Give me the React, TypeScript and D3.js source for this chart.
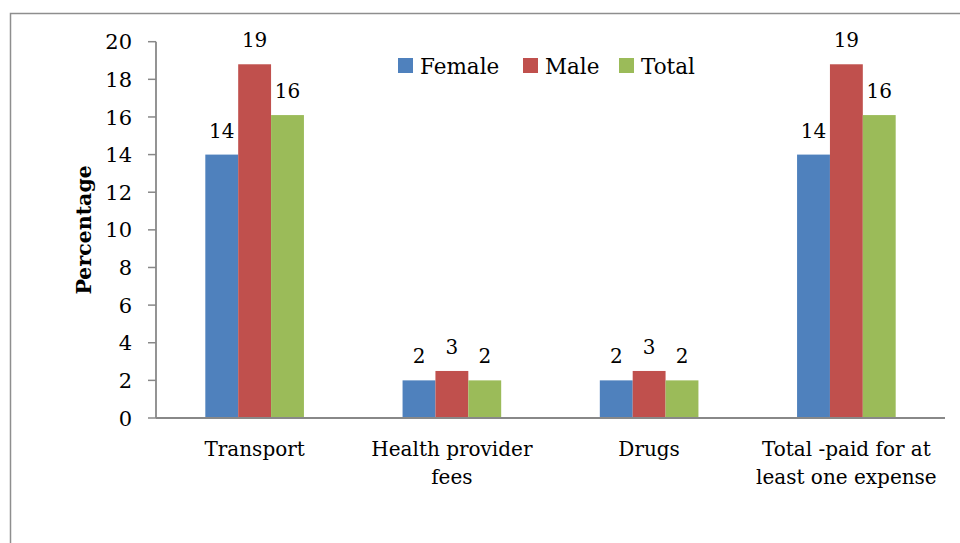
import React from "react";
import * as d3 from "d3";

const categories = ["Transport", "Health provider fees", "Drugs", "Total -paid for at least one expense"];
const categoryLines = [["Transport"], ["Health provider", "fees"], ["Drugs"], ["Total -paid for at", "least one expense"]];
const seriesNames = ["Female", "Male", "Total"];
const femaleValues = [14, 2, 2, 14];
const maleValues = [18.8, 2.5, 2.5, 18.8];
const totalValues = [16.1, 2, 2, 16.1];
const yTicks = [0, 2, 4, 6, 8, 10, 12, 14, 16, 18, 20];
const colors = ["#4F81BD", "#C0504D", "#9BBB59"];

const W = 960;
const H = 543;
const FONT = "'DejaVu Serif', serif";

export default function App() {
  const series = [femaleValues, maleValues, totalValues];
  const y = d3.scaleLinear().domain([0, 20]).range([418, 41.7]);
  const x = d3.scaleBand<string>().domain(categories).range([156, 945]).paddingInner(0.5).paddingOuter(0.25);
  const xs = d3.scaleBand<string>().domain(seriesNames).range([0, x.bandwidth()]);
  const legendX = [398, 523, 619];

  return (
    <svg width={W} height={H} style={{ position: "absolute", left: 0, top: 0, display: "block" }} fontFamily={FONT}>
      <rect x={0} y={0} width={W} height={H} fill="#fff" />
      <rect x={10.5} y={13.5} width={W + 20} height={H + 20} fill="none" stroke="#8e8e8e" strokeWidth={1.5} />
      {/* y axis */}
      <line x1={156} x2={156} y1={y(20)} y2={y(0)} stroke="#888" strokeWidth={1.8} />
      {yTicks.map((t) => (
        <g key={t}>
          <line x1={148} x2={156} y1={y(t)} y2={y(t)} stroke="#888" strokeWidth={1.5} />
          <text x={132} y={y(t)} dy="0.36em" textAnchor="end" fontSize={21} fill="#000">
            {t}
          </text>
        </g>
      ))}
      <text
        transform={`translate(91, ${(y(0) + y(20)) / 2}) rotate(-90)`}
        textAnchor="middle"
        fontSize={20.5}
        fontWeight="bold"
        fill="#000"
      >
        Percentage
      </text>
      {/* bars */}
      {categories.map((c, i) => (
        <g key={c}>
          {series.map((vals, s) => {
            const bx = (x(c) as number) + (xs(seriesNames[s]) as number);
            const bw = xs.bandwidth();
            return (
              <g key={s}>
                <rect x={bx} y={y(vals[i])} width={bw} height={y(0) - y(vals[i])} fill={colors[s]} />
                <text x={bx + bw / 2} y={y(vals[i]) - 17} textAnchor="middle" fontSize={20} fill="#000">
                  {Math.round(vals[i])}
                </text>
              </g>
            );
          })}
          {categoryLines[i].map((ln, j) => (
            <text key={j} x={(x(c) as number) + x.bandwidth() / 2} y={456 + j * 28} textAnchor="middle" fontSize={20} fill="#000">
              {ln}
            </text>
          ))}
        </g>
      ))}
      {/* x axis */}
      <line x1={156} x2={945} y1={y(0)} y2={y(0)} stroke="#888" strokeWidth={1.8} />
      {/* legend */}
      {seriesNames.map((n, s) => (
        <g key={n}>
          <rect x={legendX[s]} y={58} width={15} height={15} fill={colors[s]} />
          <text x={legendX[s] + 22} y={74} fontSize={21.5} fill="#000">
            {n}
          </text>
        </g>
      ))}
    </svg>
  );
}
